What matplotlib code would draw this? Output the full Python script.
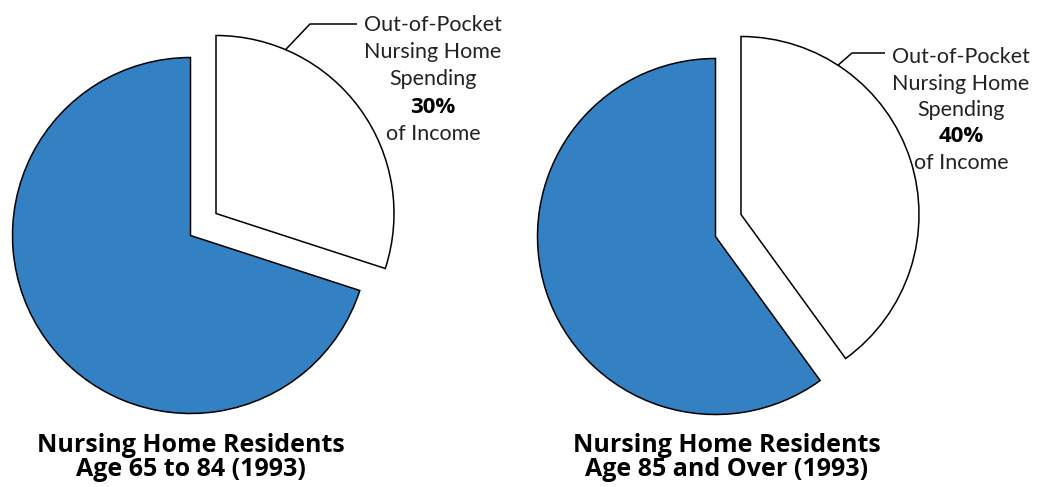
import matplotlib
matplotlib.use("Agg")
import matplotlib.pyplot as plt
import numpy as np

# Share of income spent out of pocket on nursing home care
groups = [["Nursing Home Residents", "Age 65 to 84 (1993)"],
          ["Nursing Home Residents", "Age 85 and Over (1993)"]]
out_of_pocket = [30, 40]          # percent of income
slice_label = ["Out-of-Pocket", "Nursing Home", "Spending"]

BLUE = "#3381C3"
W, H = 1053, 487

fig = plt.figure(figsize=(W / 100, H / 100), dpi=100)
ax = fig.add_axes([0, 0, 1, 1])
ax.set_xlim(0, W)
ax.set_ylim(0, H)
ax.set_aspect("equal")
ax.axis("off")

centers = [(190.5, H - 235.5), (715.5, H - 236.5)]
radius = 178
shift = (25.5, 22)               # offset of the pulled-out slice
title_x = [191, 727]
title_y = [H - 442, H - 466]
label_x = [433, 961]
label_first = [H - 23, H - 55]
label_step = [27.2, 26.5]
leader_angle = [67, 57]          # where the leader meets the arc (deg)
knee = [(310, H - 24), (852, H - 53)]
line_end = [(357, H - 24), (885, H - 53)]

light = dict(family=["Lato", "DejaVu Sans"], weight="normal", color="#222222")
bold = dict(family=["Open Sans", "DejaVu Sans"], weight="bold", color="black")

for i, pct in enumerate(out_of_pocket):
    cx, cy = centers[i]
    wedges, _ = ax.pie([pct, 100 - pct], colors=["white", BLUE],
                       startangle=90, counterclock=False, radius=radius,
                       center=(cx, cy), frame=True,
                       wedgeprops=dict(edgecolor="black", linewidth=1.1))
    white = wedges[0]
    white.set_center((cx + shift[0], cy + shift[1]))

    # leader line from the slice rim to the label
    ex, ey = cx + shift[0], cy + shift[1]
    a = np.deg2rad(leader_angle[i])
    px, py = ex + radius * np.cos(a), ey + radius * np.sin(a)
    ax.plot([px, knee[i][0], line_end[i][0]], [py, knee[i][1], line_end[i][1]],
            color="black", linewidth=1.1, solid_capstyle="butt")

    lx, ly, st = label_x[i], label_first[i], label_step[i]
    lines = slice_label + [f"{pct}%", "of Income"]
    for j, line in enumerate(lines):
        style = bold if j == 3 else light
        ax.text(lx, ly - j * st, line, ha="center", va="center_baseline",
                fontsize=15.5 if j != 3 else 16, **style)

    for j, line in enumerate(groups[i]):
        ax.text(title_x[i], title_y[j], line, ha="center",
                va="center_baseline", fontsize=18, **bold)

ax.set_xlim(0, W)
ax.set_ylim(0, H)
ax.axis("off")
fig.savefig("out.png", dpi=100)
